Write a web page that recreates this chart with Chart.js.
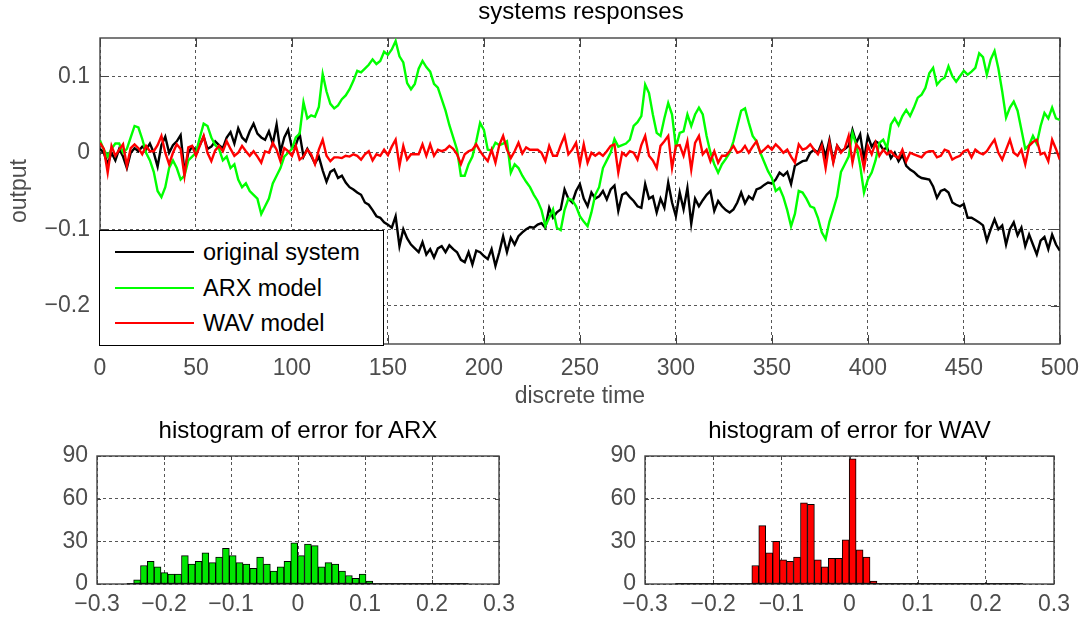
<!DOCTYPE html>
<html lang="en">
<head>
<meta charset="UTF-8">
<title>systems responses</title>
<script src="https://cdn.jsdelivr.net/npm/chart.js"></script>
<style>
  body { margin: 0; background: #fff; font-family: "Liberation Sans", Arial, Helvetica, sans-serif; }
  #page { position: relative; width: 1090px; height: 620px; overflow: hidden; }
  canvas { position: absolute; }
  .title { position: absolute; font-size: 24px; line-height: 24px; height: 24px; text-align: center; color: #000; white-space: nowrap; }
  #legend { position: absolute; left: 99px; top: 230px; width: 285px; height: 116px; box-sizing: border-box; border: 1px solid #000; background: #fff; }
  .key { position: absolute; left: 15px; width: 79px; height: 2px; }
  .entry { position: absolute; left: 103px; font-size: 23.5px; line-height: 24px; color: #000; white-space: nowrap; }
</style>
</head>
<body>
<div id="page">
  <canvas id="responses" width="1090" height="410" style="left:0;top:0"></canvas>
  <canvas id="histArx" width="540" height="220" style="left:0;top:400px"></canvas>
  <canvas id="histWav" width="530" height="220" style="left:560px;top:400px"></canvas>
  <div class="title" style="left:100px;top:-1px;width:962px">systems responses</div>
  <div class="title" style="left:97px;top:418px;width:402px">histogram of error for ARX</div>
  <div class="title" style="left:645px;top:418px;width:409px">histogram of error for WAV</div>
  <div id="legend"></div>
</div>
<script>
// outputs sampled every 2 steps of discrete time (0..500)
const timeStep = 2;
const originalSystem = [
  0.005, 0.0, -0.015, 0.0, -0.01, 0.005, -0.005, -0.02, 0.0, 0.006,
  0.002, 0.008, 0.004, 0.012, 0.0, -0.018, 0.01, 0.021, 0.0, 0.01,
  0.015, 0.023, -0.025, 0.0, 0.008, 0.003, 0.01, 0.021, 0.005, 0.008,
  0.015, 0.01, 0.006, 0.02, 0.027, 0.012, 0.032, 0.02, 0.015, 0.028,
  0.038, 0.025, 0.02, 0.017, 0.028, 0.012, 0.037, 0.001, 0.02, 0.03,
  0.006, 0.01, 0.025, -0.005, 0.005, -0.004, -0.014, -0.005, -0.023, -0.038,
  -0.025, -0.022, -0.033, -0.03, -0.039, -0.045, -0.048, -0.052, -0.055, -0.065,
  -0.068, -0.075, -0.083, -0.085, -0.091, -0.094, -0.098, -0.083, -0.122, -0.1,
  -0.112, -0.12, -0.125, -0.13, -0.117, -0.133, -0.126, -0.137, -0.125, -0.122,
  -0.13, -0.121, -0.126, -0.13, -0.14, -0.143, -0.13, -0.146, -0.128, -0.13,
  -0.135, -0.139, -0.126, -0.148, -0.13, -0.109, -0.13, -0.111, -0.12, -0.109,
  -0.104, -0.1, -0.097, -0.098, -0.094, -0.092, -0.098, -0.072, -0.085, -0.078,
  -0.074, -0.048, -0.06, -0.065, -0.05, -0.041, -0.06, -0.07, -0.052, -0.06,
  -0.057, -0.05, -0.061, -0.048, -0.043, -0.076, -0.055, -0.052, -0.058, -0.063,
  -0.07, -0.072, -0.041, -0.06, -0.057, -0.078, -0.06, -0.072, -0.039, -0.065,
  -0.083, -0.052, -0.074, -0.046, -0.093, -0.06, -0.07, -0.062, -0.055, -0.05,
  -0.076, -0.063, -0.07, -0.075, -0.078, -0.074, -0.065, -0.052, -0.066, -0.057,
  -0.061, -0.048, -0.046, -0.042, -0.039, -0.04, -0.035, -0.026, -0.03, -0.025,
  -0.041, -0.017, -0.014, -0.011, -0.01, 0.0, 0.004, 0.0, 0.013, -0.005,
  0.017, -0.011, 0.009, 0.002, 0.005, 0.009, 0.03, 0.013, 0.024, -0.009,
  0.022, 0.008, 0.015, 0.012, 0.004, 0.007, -0.007, 0.0, -0.011, -0.003,
  -0.017, -0.022, -0.025, -0.03, -0.033, -0.034, -0.035, -0.044, -0.059, -0.05,
  -0.048, -0.052, -0.065, -0.068, -0.07, -0.067, -0.085, -0.085, -0.088, -0.091,
  -0.095, -0.115, -0.1, -0.087, -0.1, -0.095, -0.12, -0.1, -0.091, -0.108,
  -0.098, -0.122, -0.107, -0.12, -0.133, -0.115, -0.11, -0.126, -0.107, -0.12,
  -0.128
];
const arxModel = [
  0.016, 0.004, -0.005, 0.005, 0.012, 0.012, 0.0, 0.005, 0.02, 0.035,
  0.033, 0.018, 0.0, -0.01, -0.025, -0.05, -0.058, -0.045, -0.02, -0.01,
  -0.02, -0.035, -0.03, -0.01, -0.005, 0.0, 0.02, 0.038, 0.035, 0.02,
  0.01, 0.005, -0.01, -0.005, -0.02, -0.015, -0.035, -0.045, -0.04, -0.05,
  -0.055, -0.06, -0.08, -0.07, -0.06, -0.04, -0.03, -0.02, -0.005, 0.0,
  0.005, 0.02, 0.025, 0.066, 0.045, 0.049, 0.047, 0.06, 0.103, 0.08,
  0.064, 0.058, 0.062, 0.07, 0.075, 0.083, 0.094, 0.107, 0.105, 0.11,
  0.115, 0.122, 0.116, 0.12, 0.132, 0.128, 0.135, 0.146, 0.126, 0.118,
  0.091, 0.083, 0.09, 0.11, 0.12, 0.112, 0.106, 0.09, 0.085, 0.07,
  0.055, 0.036, 0.02, 0.004, -0.03, -0.03, -0.015, -0.005, 0.015, 0.039,
  0.03, 0.004, 0.003, 0.013, 0.01, 0.012, 0.015, -0.026, -0.015, -0.02,
  -0.03, -0.038, -0.045, -0.055, -0.063, -0.075, -0.096, -0.085, -0.074, -0.098,
  -0.101, -0.075, -0.06, -0.062, -0.07, -0.083, -0.09, -0.096, -0.078, -0.055,
  -0.045, -0.02, -0.01, 0.0, 0.018, 0.008, 0.01, 0.012, 0.017, 0.035,
  0.04, 0.048, 0.089, 0.078, 0.05, 0.026, 0.022, 0.045, 0.065, 0.05,
  0.007, 0.026, 0.028, 0.05, 0.035, 0.05, 0.059, 0.05, 0.022, 0.0,
  -0.015, -0.026, -0.015, -0.008, 0.0, 0.015, 0.035, 0.055, 0.058, 0.039,
  0.022, 0.015, 0.0, -0.012, -0.024, -0.033, -0.05, -0.046, -0.058, -0.075,
  -0.096, -0.08, -0.05, -0.052, -0.06, -0.07, -0.072, -0.085, -0.104, -0.113,
  -0.09, -0.074, -0.057, -0.025, -0.015, -0.005, 0.026, 0.01, -0.017, -0.052,
  -0.035, -0.026, -0.01, 0.013, 0.017, 0.006, 0.037, 0.045, 0.036, 0.048,
  0.056, 0.048, 0.059, 0.072, 0.076, 0.085, 0.104, 0.111, 0.089, 0.095,
  0.098, 0.113, 0.1, 0.093, 0.1, 0.107, 0.102, 0.106, 0.111, 0.13,
  0.125, 0.102, 0.122, 0.133, 0.11, 0.08, 0.046, 0.059, 0.067, 0.055,
  0.03, 0.005, 0.01, 0.022, 0.012, 0.035, 0.052, 0.045, 0.059, 0.045,
  0.043
];
const wavModel = [
  0.013, 0.005, -0.026, 0.009, -0.004, 0.004, 0.011, -0.017, 0.006, 0.011,
  0.006, -0.002, 0.009, 0.002, 0.002, 0.01, 0.022, 0.0, -0.015, 0.0,
  0.011, 0.005, -0.03, 0.007, 0.009, -0.004, 0.009, 0.022, 0.0, -0.011,
  0.003, 0.009, 0.002, 0.015, 0.005, -0.004, 0.0, 0.009, 0.002, -0.004,
  0.002, -0.005, -0.013, 0.002, 0.0, 0.013, 0.004, -0.011, 0.006, 0.002,
  -0.004, 0.009, -0.009, -0.005, 0.004, -0.002, -0.015, 0.004, 0.017, -0.004,
  -0.011, -0.006, -0.006, -0.007, -0.004, -0.005, -0.002, -0.004, -0.009, -0.002,
  0.002, -0.01, -0.002, -0.004, 0.004, -0.003, 0.008, 0.017, -0.017, 0.009,
  -0.009, -0.002, -0.002, -0.002, 0.011, -0.004, 0.011, -0.004, 0.004, 0.002,
  0.004, 0.009, 0.005, -0.002, -0.015, -0.002, 0.002, 0.004, 0.011, 0.002,
  -0.005, -0.011, 0.004, -0.013, 0.01, 0.022, 0.004, -0.007, 0.002, 0.013,
  -0.001, 0.007, 0.004, 0.004, 0.004, 0.0, -0.011, 0.009, -0.004, -0.004,
  0.01, 0.022, -0.002, 0.004, 0.013, -0.015, 0.011, -0.013, 0.0, -0.004,
  0.0, -0.004, 0.002, 0.009, 0.011, -0.026, 0.0, -0.004, 0.002, 0.0,
  -0.009, 0.01, 0.022, -0.004, -0.01, -0.02, 0.009, 0.015, 0.022, -0.02,
  0.009, 0.01, -0.004, 0.015, -0.022, 0.013, 0.022, -0.002, 0.004, -0.011,
  0.002, -0.013, -0.004, -0.004, 0.002, 0.009, 0.0, 0.002, 0.009, 0.0,
  0.008, 0.015, 0.0, 0.004, 0.009, 0.004, 0.011, 0.006, 0.0, 0.004,
  -0.005, -0.013, 0.011, 0.004, 0.006, 0.011, 0.004, -0.002, 0.009, -0.02,
  0.013, -0.013, 0.009, 0.0, 0.006, 0.022, -0.013, 0.011, 0.004, -0.02,
  0.009, -0.002, 0.013, -0.004, 0.004, -0.002, 0.002, -0.004, -0.007, 0.004,
  -0.011, 0.0, -0.002, -0.004, -0.006, 0.0, 0.002, 0.002, -0.006, -0.004,
  0.004, 0.002, -0.009, -0.006, -0.004, 0.002, 0.004, -0.006, 0.004, 0.0,
  -0.002, 0.002, 0.01, 0.017, 0.0, -0.009, 0.004, 0.017, 0.0, -0.004,
  0.004, -0.015, 0.009, 0.014, 0.017, -0.002, 0.0, -0.011, 0.017, 0.005,
  -0.009
];
const seriesNames = ['original system', 'ARX model', 'WAV model'];
const seriesColors = ['#000000', '#00ff00', '#ff0000'];
const timeTicks = [0, 50, 100, 150, 200, 250, 300, 350, 400, 450, 500];
const outputTicks = [-0.2, -0.1, 0, 0.1];

// error histograms: 50 equal bins over the error range
const errorLow = -0.2555;
const errorHigh = 0.2545;
const arxCounts = [
  0, 3, 13, 16, 12, 8, 7, 7, 20, 14,
  16, 22, 15, 19, 25, 20, 15, 14, 11, 19,
  14, 9, 12, 16, 29, 20, 28, 27, 12, 15,
  14, 9, 6, 4, 7, 2, 0, 0, 0, 0,
  0, 0, 0, 0, 0, 0, 0, 0, 0, 0
];
const wavCounts = [
  0, 0, 0, 0, 0, 0, 0, 0, 0, 0,
  0, 13, 41, 22, 30, 17, 16, 19, 57, 56,
  17, 12, 18, 18, 31, 88, 24, 19, 2, 0,
  0, 0, 0, 0, 0, 0, 0, 0, 0, 0,
  0, 0, 0, 0, 0, 0, 0, 0, 0, 0
];
const errorTicks = [-0.3, -0.2, -0.1, 0, 0.1, 0.2, 0.3];
const countTicks = [0, 30, 60, 90];

Chart.defaults.font.family = '"Liberation Sans", Arial, Helvetica, sans-serif';
Chart.defaults.font.size = 23;
Chart.defaults.color = '#4d4d4d';

function fmt(v) {
  if (Math.abs(v) < 1e-9) return '0';
  return (v < 0 ? '\u2212' : '') + Math.abs(v).toFixed(1);
}

// box around the plot area with inward tick marks on all four sides
const axesBox = {
  id: 'axesBox',
  beforeDatasetsDraw(chart, args, opts) {
    const { ctx, chartArea: a, scales: { x, y } } = chart;
    const len = opts.tickLength;
    ctx.save();
    ctx.strokeStyle = '#444';
    ctx.lineWidth = 1;
    ctx.beginPath();
    x.ticks.forEach(t => {
      const px = Math.round(x.getPixelForValue(t.value)) + 0.5;
      ctx.moveTo(px, a.bottom); ctx.lineTo(px, a.bottom - len);
      ctx.moveTo(px, a.top); ctx.lineTo(px, a.top + len);
    });
    y.ticks.forEach(t => {
      const py = Math.round(y.getPixelForValue(t.value)) + 0.5;
      ctx.moveTo(a.left, py); ctx.lineTo(a.left + len, py);
      ctx.moveTo(a.right, py); ctx.lineTo(a.right - len, py);
    });
    ctx.stroke();
    ctx.lineWidth = 1.4;
    ctx.strokeRect(a.left, a.top, a.right - a.left, a.bottom - a.top);
    ctx.restore();
  }
};

function axis(opts) {
  return Object.assign({
    type: 'linear',
    grid: { color: 'rgba(30,30,30,0.75)', lineWidth: 1, drawTicks: false, offset: false },
    border: { display: false, dash: [3, 3] },
  }, opts);
}

function fixedTicks(values) {
  return scale => { scale.ticks = values.map(v => ({ value: v })); };
}

// top panel: responses over discrete time
const sampleTimes = originalSystem.map((_, i) => i * timeStep);
const responses = [originalSystem, arxModel, wavModel];

new Chart(document.getElementById('responses'), {
  type: 'line',
  data: {
    datasets: responses.map((values, i) => ({
      label: seriesNames[i],
      data: values.map((v, k) => ({ x: sampleTimes[k], y: v })),
      borderColor: seriesColors[i],
      borderWidth: 2.4,
      pointRadius: 0,
      tension: 0,
      order: 3 - i
    }))
  },
  options: {
    responsive: false,
    animation: false,
    events: [],
    layout: { padding: { top: 38, right: 28, left: 0, bottom: 0 } },
    plugins: { legend: { display: false }, tooltip: { enabled: false }, axesBox: { tickLength: 9 } },
    scales: {
      x: axis({
        min: 0, max: 500,
        afterBuildTicks: fixedTicks(timeTicks),
        afterFit: s => { s.height = 66; },
        ticks: { padding: 11, maxRotation: 0, autoSkip: false, callback: v => String(v) },
        title: { display: true, text: 'discrete time', padding: { top: 0, bottom: 0 } }
      }),
      y: axis({
        min: -0.25, max: 0.15,
        afterBuildTicks: fixedTicks(outputTicks),
        afterFit: s => { s.width = 100; },
        ticks: { padding: 10, callback: fmt },
        title: { display: true, text: 'output', padding: { top: 6, bottom: 0 } }
      })
    }
  },
  plugins: [axesBox]
});

// legend inside the lower left of the top panel
const legend = document.getElementById('legend');
seriesNames.forEach((name, i) => {
  const rowY = 21 + i * 35.5;
  const key = document.createElement('div');
  key.className = 'key';
  key.style.top = (rowY - 1) + 'px';
  key.style.background = seriesColors[i];
  legend.appendChild(key);
  const label = document.createElement('div');
  label.className = 'entry';
  label.style.top = (rowY - 12) + 'px';
  label.textContent = name;
  legend.appendChild(label);
});

// bottom panels: error histograms
const binWidth = (errorHigh - errorLow) / arxCounts.length;
const binCenters = arxCounts.map((_, k) => errorLow + binWidth * (k + 0.5));

function histogram(id, counts, fill, yWidth, rightPad) {
  new Chart(document.getElementById(id), {
    type: 'bar',
    data: {
      datasets: [
        {
          type: 'line',
          data: [{ x: errorLow, y: 0 }, { x: errorHigh, y: 0 }],
          borderColor: '#000',
          borderWidth: 1.5,
          pointRadius: 0,
          order: 1
        },
        {
          type: 'bar',
          data: counts.map((c, k) => ({ x: binCenters[k], y: c })),
          backgroundColor: fill,
          borderColor: '#000',
          borderWidth: 1,
          borderSkipped: false,
          barPercentage: 1,
          categoryPercentage: 1,
          order: 2
        }
      ]
    },
    options: {
      responsive: false,
      animation: false,
      events: [],
      layout: { padding: { top: 56, right: rightPad, left: 0, bottom: 0 } },
      plugins: { legend: { display: false }, tooltip: { enabled: false }, axesBox: { tickLength: 4 } },
      scales: {
        x: axis({
          min: -0.3, max: 0.3, offset: false,
          afterBuildTicks: fixedTicks(errorTicks),
          afterFit: s => { s.height = 36; },
          ticks: { padding: 7, maxRotation: 0, autoSkip: false, callback: fmt }
        }),
        y: axis({
          min: 0, max: 90,
          afterBuildTicks: fixedTicks(countTicks),
          afterFit: s => { s.width = yWidth; },
          ticks: { padding: 9, callback: v => String(v) }
        })
      }
    },
    plugins: [axesBox]
  });
}

histogram('histArx', arxCounts, '#00e600', 97, 41);
histogram('histWav', wavCounts, '#ff0000', 85, 36);
</script>
</body>
</html>
